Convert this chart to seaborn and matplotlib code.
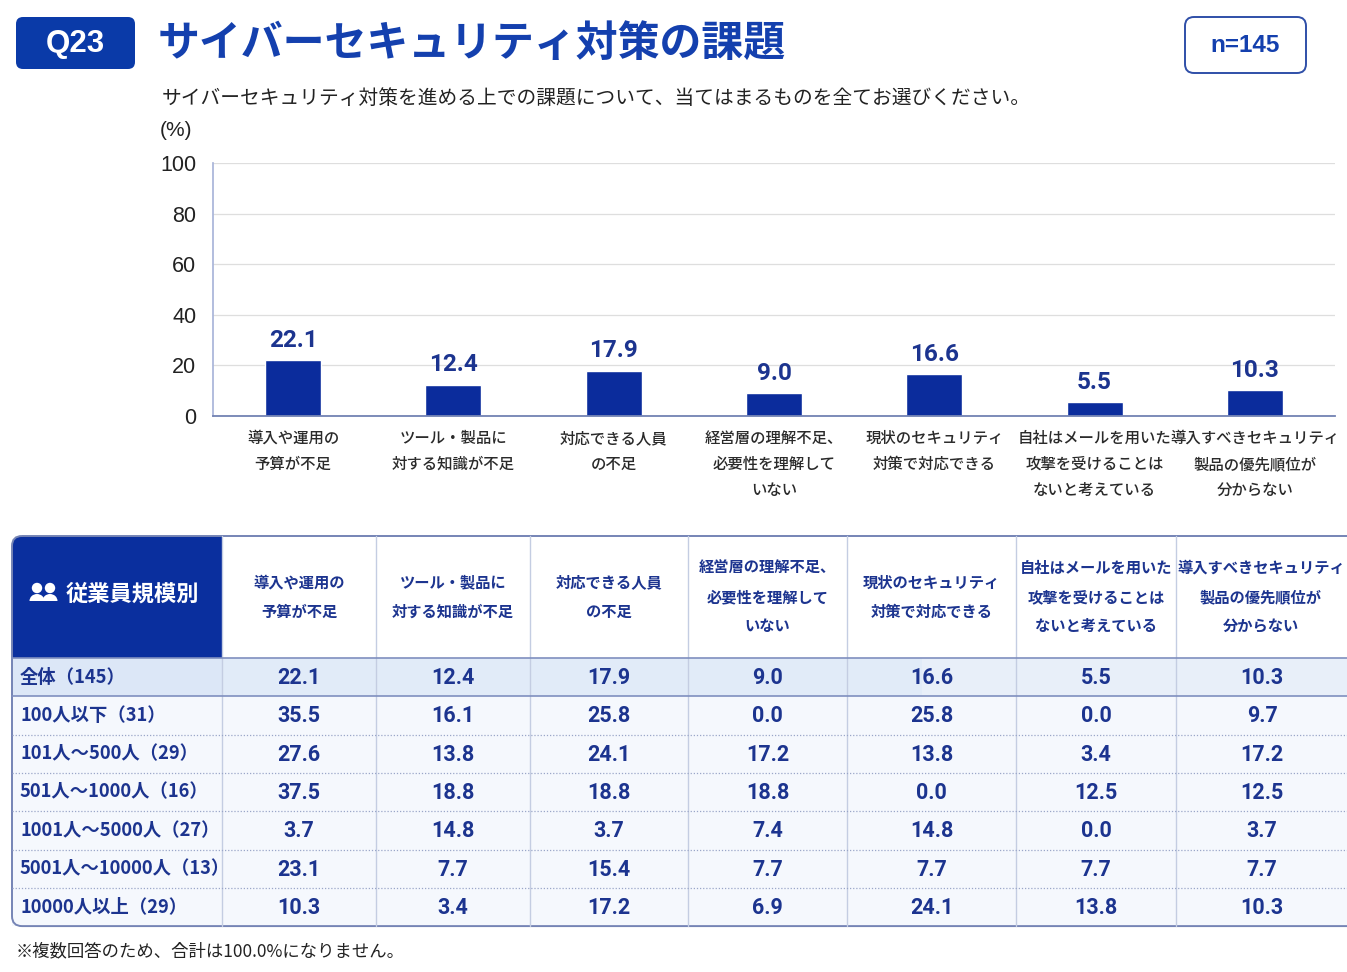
import pandas as pd
import matplotlib
matplotlib.use("Agg")
import matplotlib.pyplot as plt
from matplotlib.patches import FancyBboxPatch, Rectangle, Circle, Ellipse
import seaborn as sns

# ---- data ----
categories = [
    "導入や運用の\n予算が不足",
    "ツール・製品に\n対する知識が不足",
    "対応できる人員\nの不足",
    "経営層の理解不足、\n必要性を理解して\nいない",
    "現状のセキュリティ\n対策で対応できる",
    "自社はメールを用いた\n攻撃を受けることは\nないと考えている",
    "導入すべきセキュリティ\n製品の優先順位が\n分からない",
]
overall = [22.1, 12.4, 17.9, 9.0, 16.6, 5.5, 10.3]

groups = ["全体（145）", "100人以下（31）", "101人～500人（29）", "501人～1000人（16）",
          "1001人～5000人（27）", "5001人～10000人（13）", "10000人以上（29）"]
row_le100 = [35.5, 16.1, 25.8, 0.0, 25.8, 0.0, 9.7]
row_101_500 = [27.6, 13.8, 24.1, 17.2, 13.8, 3.4, 17.2]
row_501_1000 = [37.5, 18.8, 18.8, 18.8, 0.0, 12.5, 12.5]
row_1001_5000 = [3.7, 14.8, 3.7, 7.4, 14.8, 0.0, 3.7]
row_5001_10000 = [23.1, 7.7, 15.4, 7.7, 7.7, 7.7, 7.7]
row_10000_up = [10.3, 3.4, 17.2, 6.9, 24.1, 13.8, 10.3]
table_rows = [overall, row_le100, row_101_500, row_501_1000,
              row_1001_5000, row_5001_10000, row_10000_up]

sns.set_theme(style="white")
plt.rcParams["font.family"] = ["Noto Sans CJK JP", "DejaVu Sans"]

NAVY = "#0b2c9c"
TITLE = "#1440ae"
TXT_BLUE = "#1c348f"
NUM_FONT = ["Roboto", "DejaVu Sans"]
LAT_FONT = ["Liberation Sans", "DejaVu Sans"]

W, H = 1347, 972
fig = plt.figure(figsize=(W / 100, H / 100), dpi=100)
fig.patch.set_facecolor("white")

# ---- bar chart ----
ax = fig.add_axes([213 / W, 1 - 416 / H, (1335 - 213) / W, (416 - 163) / H])
df = pd.DataFrame({"cat": categories, "val": overall})
sns.barplot(data=df, x="cat", y="val", color=NAVY, saturation=1, width=0.35, ax=ax)
ax.set_ylim(0, 100)
ax.set_yticks([0, 20, 40, 60, 80, 100])
ax.set_xlim(-0.5, len(categories) - 0.5)
ax.set_xlabel("")
ax.set_ylabel("")
ax.yaxis.grid(True, color="#dedede", lw=0.9)
ax.set_axisbelow(True)
for s in ["top", "right"]:
    ax.spines[s].set_visible(False)
ax.spines["left"].set_color("#a9b5d9")
ax.spines["bottom"].set_color("#7282b3")
ax.spines["bottom"].set_linewidth(1.3)
ax.tick_params(axis="y", length=0, pad=12, labelsize=15.5, labelcolor="#222222")
ax.tick_params(axis="x", length=0, pad=10)
for lab in ax.get_xticklabels():
    lab.set_fontsize(11.1)
    lab.set_color("#2a2a2a")
    lab.set_linespacing(1.7)
    lab.set_fontweight("medium")
for lab in ax.get_yticklabels():
    lab.set_family(LAT_FONT)
labels = ax.bar_label(ax.containers[0], fmt="%.1f", padding=6, color=TXT_BLUE,
                      fontsize=17.5, fontweight="bold")
for t in labels:
    t.set_family(NUM_FONT)

# ---- overlay for header, table and notes (pixel coordinates) ----
ov = fig.add_axes([0, 0, 1, 1], facecolor="none")
ov.set_xlim(0, W)
ov.set_ylim(H, 0)
ov.axis("off")

ov.add_patch(FancyBboxPatch((16, 17), 119, 52, boxstyle="round,pad=0,rounding_size=7",
                            fc="#0a3aa8", ec="none"))
ov.text(75, 44, "Q23", color="white", fontsize=22.5, fontweight="bold",
        ha="center", va="center", family=LAT_FONT)
ov.text(158, 44, "サイバーセキュリティ対策の課題", color=TITLE, fontsize=30.2,
        fontweight="bold", ha="left", va="center")
ov.add_patch(FancyBboxPatch((1185, 17), 121, 56, boxstyle="round,pad=0,rounding_size=9",
                            fc="white", ec="#2f4fa8", lw=1.4))
ov.text(1245, 45, "n=145", color=TITLE, fontsize=17.5, fontweight="bold",
        ha="center", va="center", family=LAT_FONT)
ov.text(162, 98, "サイバーセキュリティ対策を進める上での課題について、当てはまるものを全てお選びください。",
        fontsize=14.2, color="#222222", ha="left", va="center")
ov.text(160, 131, "(%)", fontsize=15, color="#222222", ha="left", va="center",
        family=LAT_FONT)

# table geometry
col_x = [12, 222, 376, 530, 688, 847, 1016, 1176, 1360]
top, head_bot, row_h = 536, 658, 38.3
tab_bot = head_bot + row_h * len(groups)

for i in range(len(groups)):
    y0 = head_bot + i * row_h
    fc = "#dce7f7" if i == 0 else "#f5f8fd"
    ov.add_patch(Rectangle((col_x[0], y0), W - col_x[0], row_h, fc=fc, ec="none"))
    if i == 0:
        ov.add_patch(Rectangle((col_x[1], y0), 700, row_h, fc="#e4edf9", ec="none", alpha=0.7))
        ov.add_patch(Rectangle((col_x[1] + 700, y0), 430, row_h, fc="#eef3fb", ec="none", alpha=0.7))

# header dark cell
ov.add_patch(FancyBboxPatch((col_x[0], top), col_x[1] - col_x[0], head_bot - top,
                            boxstyle="round,pad=0,rounding_size=10", fc="#0a2f9e", ec="none"))
ov.add_patch(Rectangle((120, top), col_x[1] - 120, head_bot - top, fc="#0a2f9e", ec="none"))
ov.add_patch(Rectangle((col_x[0], 600), col_x[1] - col_x[0], head_bot - 600, fc="#0a2f9e", ec="none"))

# people icon
for cx, cy, r in [(37, 588, 5.2), (50, 588, 5.2)]:
    ov.add_patch(Circle((cx, cy), r, fc="white", ec="none"))
    ov.add_patch(Ellipse((cx, cy + 13), 15, 14, fc="white", ec="none"))
ov.add_patch(Rectangle((26, 601), 36, 8, fc="#0a2f9e", ec="none"))
ov.text(66, 594, "従業員規模別", color="white", fontsize=16, fontweight="bold",
        ha="left", va="center")

# vertical lines
for x in col_x[1:-1]:
    ov.plot([x, x], [top, tab_bot], color="#c4cde2", lw=1)
# horizontal lines
ov.plot([col_x[0], W], [head_bot, head_bot], color="#7f8fbf", lw=1.2)
ov.plot([col_x[0], W], [head_bot + row_h, head_bot + row_h], color="#7f8fbf", lw=1.2)
for i in range(2, len(groups)):
    y = head_bot + i * row_h
    ov.plot([col_x[0], W], [y, y], color="#9aa6c8", lw=0.9, ls=(0, (1, 1.5)))

# outer border
ov.add_patch(FancyBboxPatch((col_x[0], top), col_x[-1] - col_x[0], tab_bot - top,
                            boxstyle="round,pad=0,rounding_size=10", fc="none",
                            ec="#7584b5", lw=1.4))

# header column labels
for j, cat in enumerate(categories):
    cx = (col_x[j + 1] + min(col_x[j + 2], 1347)) / 2
    if j == len(categories) - 1:
        cx = 1261
    ov.text(cx, 597, cat, color=TXT_BLUE, fontsize=11, fontweight="bold",
            ha="center", va="center", linespacing=2.0)

# rows
for i, (g, vals) in enumerate(zip(groups, table_rows)):
    cy = head_bot + (i + 0.5) * row_h
    ov.text(20, cy, g, color=TXT_BLUE, fontsize=13.2, fontweight="bold",
            ha="left", va="center")
    for j, v in enumerate(vals):
        cx = (col_x[j + 1] + min(col_x[j + 2], 1347)) / 2
        if j == len(vals) - 1:
            cx = 1262
        ov.text(cx, cy + 1, f"{v:.1f}", color=TXT_BLUE, fontsize=15.5, fontweight="bold",
                ha="center", va="center", family=NUM_FONT)

ov.text(16, 951, "※複数回答のため、合計は100.0%になりません。", fontsize=12.5,
        color="#222222", ha="left", va="center")

fig.savefig("out.png", dpi=100)
